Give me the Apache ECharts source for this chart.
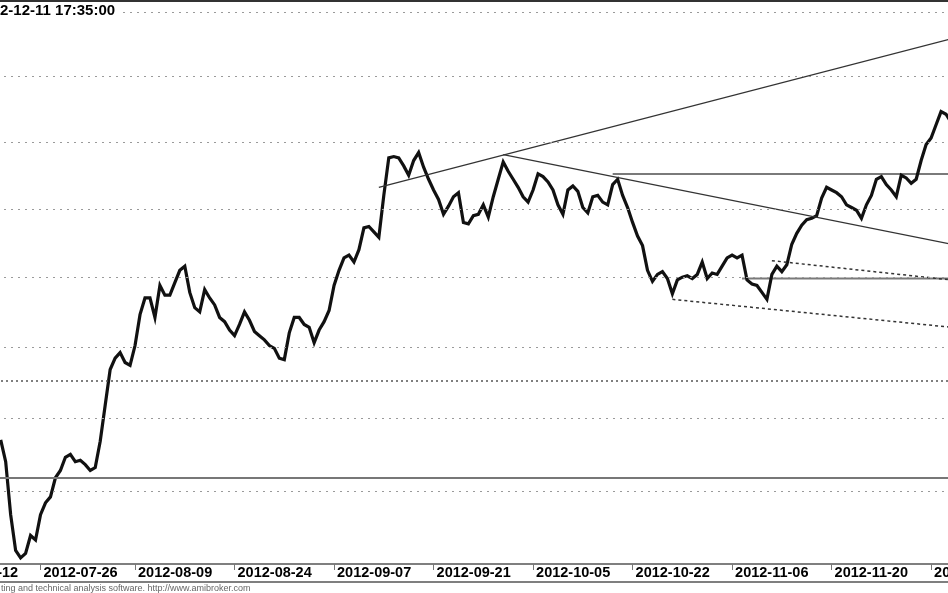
<!DOCTYPE html>
<html>
<head>
<meta charset="utf-8">
<script src="https://cdn.jsdelivr.net/npm/echarts@6/dist/echarts.min.js"></script>
<style>
html,body{margin:0;padding:0;background:#fff;overflow:hidden;width:948px;height:593px;position:relative;}
#chart{position:absolute;left:-59px;top:0;width:1010px;height:593px;}
</style>
</head>
<body>
<div id="chart"></div>
<script>
// ---- data ----
const tickLabels = ["2012-07-12","2012-07-26","2012-08-09","2012-08-24","2012-09-07","2012-09-21","2012-10-05","2012-10-22","2012-11-06","2012-11-20","2012-12-04"];
const segmentLengths = [20,19,20,20,20,20,20,20,20,20,5];
const firstVisible = 12;
const prices = [
  2285,2270,2234,2210,2205,2208,2220,2217,2234,
  2242,2246,2259,2264,2273,2275,2270,2271,2268,2264,
  2266,2284,2309,2334,2342,2346,2339,2337,2351,2373,
  2385,2385,2371,2394,2387,2387,2396,2405,2408,2389,
  2378,2375,2391,2385,2380,2371,2368,2362,2358,2366,
  2375,2369,2361,2358,2355,2351,2349,2342,2341,2360,
  2371,2371,2366,2364,2353,2362,2368,2376,2394,2405,
  2414,2416,2411,2420,2436,2437,2433,2429,2460,2488,
  2489,2488,2482,2475,2486,2492,2481,2472,2464,2457,
  2446,2452,2459,2462,2440,2439,2445,2446,2453,2444,
  2459,2472,2485,2478,2472,2466,2459,2455,2464,2476,
  2474,2470,2464,2453,2446,2464,2467,2463,2451,2447,
  2459,2460,2455,2453,2468,2472,2460,2451,2440,2430,
  2423,2405,2397,2402,2404,2399,2388,2398,2400,2401,
  2399,2402,2411,2399,2403,2402,2408,2414,2416,2414,
  2416,2398,2395,2394,2389,2384,2402,2408,2404,2409,
  2424,2432,2438,2442,2443,2445,2458,2466,2464,2462,
  2459,2453,2451,2449,2443,2453,2460,2472,2474,2468,
  2464,2459,2475,2473,2469,2472,2486,2498,2503,2513,
  2523,2521,2515
];
const gridLevels = [2250,2300,2350,2400,2450,2500,2550,2600];
const solidLevels = [2259];
const dottedLevels = [2326];
// trend lines drawn on the chart: [categoryIndex, price] end points
const solidTrends = [
  [[88,2466],[203,2579]],
  [[113,2490.5],[203,2424]]
];
const greyTrends = [
  [[135,2476],[203,2476]],
  [[161,2399],[203,2399]]
];
const dottedTrends = [
  [[167,2412],[203,2398]],
  [[147,2384],[203,2364]]
];
const titleText = "2012-12-11 17:35:00";
const footerText = "ting and technical analysis software. http://www.amibroker.com";

// ---- build ----
const categories = [];
tickLabels.forEach((lab, k) => {
  for (let j = 0; j < segmentLengths[k]; j++) categories.push(j === 0 ? lab : '');
});
const seriesData = categories.map((c, i) => (i >= firstVisible && i - firstVisible < prices.length) ? prices[i - firstVisible] : null);

const CW = 1010, CH = 593;
const chart = echarts.init(document.getElementById('chart'), null, {renderer: 'canvas', width: CW, height: CH});
const isLabel = (i, v) => v !== '';
const OX = 59; // chart div is shifted 59px left of the page

const trendSeries = [];
solidTrends.forEach(t => trendSeries.push({type:'line', data:t, symbol:'none', silent:true, z:3,
  lineStyle:{color:'#333', width:1.2}}));
greyTrends.forEach(t => trendSeries.push({type:'line', data:t, symbol:'none', silent:true, z:1,
  lineStyle:{color:'#7a7a7a', width:2}}));
dottedTrends.forEach(t => trendSeries.push({type:'line', data:t, symbol:'none', silent:true, z:3,
  lineStyle:{color:'#333', width:1.5, type:[3,3]}}));

const option = {
  animation: false,
  backgroundColor: '#fff',
  grid: {left: 0, right: 0, top: 0, bottom: 29, containLabel: false, outerBoundsMode: 'none'},
  xAxis: {
    type: 'category', data: categories, boundaryGap: false,
    axisLine: {lineStyle: {color: '#555', width: 1.5}},
    axisTick: {show: true, interval: isLabel, length: 6, lineStyle: {color: '#777', width: 1}},
    axisLabel: {interval: isLabel, align: 'left', verticalAlign: 'middle', margin: 9, padding: [0,0,0,3],
      showMinLabel: true, showMaxLabel: true,
      fontFamily: 'Liberation Sans, Arial, sans-serif', fontWeight: 'bold', fontSize: 14.5, color: '#000'},
    splitLine: {show: false}
  },
  yAxis: {
    type: 'log', logBase: 10, min: 2200.96, max: 2609.44,
    axisLine: {show: false}, axisTick: {show: false}, axisLabel: {show: false}, splitLine: {show: false}
  },
  series: [
    {
      type: 'line', data: [], silent: true, z: 0,
      markLine: {
        silent: true, symbol: 'none', label: {show: false},
        data: [
          ...gridLevels.map(v => ({yAxis: v, lineStyle: {color: '#9a9a9a', width: 1, type: [2,5]}})),
          ...dottedLevels.map(v => ({yAxis: v, lineStyle: {color: '#555', width: 1.5, type: [2,3]}})),
          ...solidLevels.map(v => ({yAxis: v, lineStyle: {color: '#777', width: 2, type: 'solid'}}))
        ]
      }
    },
    ...trendSeries,
    {
      type: 'line', data: seriesData, symbol: 'none', silent: true, z: 2,
      lineStyle: {color: '#111', width: 3.2, join: 'miter'}
    }
  ],
  graphic: [
    {type: 'line', shape: {x1: OX, y1: 1, x2: OX + 948, y2: 1}, style: {stroke: '#333', lineWidth: 2}, z: 10},
    {type: 'line', shape: {x1: OX, y1: 582, x2: OX + 948, y2: 582}, style: {stroke: '#555', lineWidth: 1.5}, z: 10},
    {type: 'text', left: OX - 25, top: 3, z: 10,
      style: {text: titleText, font: 'bold 15px "Liberation Sans", Arial, sans-serif', fill: '#000',
        backgroundColor: '#fff', padding: [0,3,0,0]}},
    {type: 'text', left: OX + 1, top: 584, z: 10,
      style: {text: footerText, font: '9px "Liberation Sans", Arial, sans-serif', fill: '#666'}}
  ]
};
chart.setOption(option);
</script>
</body>
</html>
